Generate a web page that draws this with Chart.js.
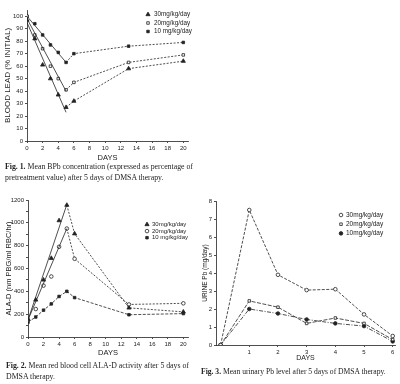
<!DOCTYPE html>
<html lang="en">
<head>
<meta charset="UTF-8">
<script src="https://cdn.jsdelivr.net/npm/chart.js"></script>
<style>
  body { margin: 0; background: #fff; }
  #page { position: relative; width: 400px; height: 384px; overflow: hidden; background: #fff; }
  canvas { position: absolute; }
  .cap { position: absolute; font-family: "Liberation Serif", serif; font-size: 7.8px; line-height: 11px; color: #222;
         white-space: nowrap; will-change: transform; }
</style>
</head>
<body>
<div id="page">
  <canvas id="fig1" width="200" height="162" style="left:0;top:0"></canvas>
  <canvas id="fig2" width="200" height="172" style="left:0;top:185px"></canvas>
  <canvas id="fig3" width="200" height="172" style="left:200px;top:190px"></canvas>

  <div class="cap" style="left:5px;top:161px"><b>Fig. 1.</b> Mean BPb concentration (expressed as percentage of<br>pretreatment value) after 5 days of DMSA therapy.</div>
  <div class="cap" style="left:6px;top:360px"><b>Fig. 2.</b> Mean red blood cell ALA-D activity after 5 days of<br>DMSA therapy.</div>
  <div class="cap" style="left:201px;top:366px;font-size:7.6px"><b>Fig. 3.</b> Mean urinary Pb level after 5 days of DMSA therapy.</div>
</div>

<script>
// Fig. 1 - blood lead, % of initial
const days1 = [0, 1, 2, 3, 4, 5, 6, 13, 20];
const bpb30 = [97, 82, 61, 50, 37, 27, 32, 58, 64];
const bpb20 = [100, 85, 74, 60, 50, 41, 47, 63, 69];
const bpb10 = [100, 94, 85, 77, 71, 63, 70, 76, 79];
// solid straight lines over the treatment days (day 0 and day 5 ends)
const fitDays = [0, 5];
const bpbFit30 = [95, 23];
const bpbFit20 = [98, 40];
const bpbFit10 = [100, 63];

// Fig. 2 - ALA-D activity
const days2 = [0, 1, 2, 3, 4, 5, 6, 13, 20];
const alad30 = [155, 325, 500, 690, 1020, 1155, 905, 255, 220];
const alad20 = [150, 245, 450, 530, 790, 950, 685, 285, 295];
const alad10 = [130, 175, 235, 290, 355, 400, 345, 195, 205];
const aladFit30 = [150, 1160];
const aladFit20 = [150, 950];

// Fig. 3 - urinary Pb
const days3 = [0, 1, 2, 3, 4, 5, 6];
const urine30 = [0, 7.5, 3.9, 3.05, 3.1, 1.7, 0.5];
const urine20 = [0, 2.45, 2.1, 1.2, 1.5, 1.2, 0.3];
const urine10 = [0, 2.0, 1.75, 1.42, 1.2, 1.05, 0.2];

// tick labels
const dayTicks = [0, 2, 4, 6, 8, 10, 12, 14, 16, 18, 20];
const bpbTicks = [0, 10, 20, 30, 40, 50, 60, 70, 80, 90, 100];
const aladTicks = [0, 100, 200, 300, 400, 500, 600, 700, 800, 900, 1000, 1100, 1200];
const urineTicks = [0, 1, 2, 3, 4, 5, 6, 7, 8];
const dayTicks3 = [1, 2, 3, 4, 5, 6];

const legend1 = ['30mg/kg/day', '20mg/kg/day', '10 mg/kg/day'];
const legend3 = ['30mg/kg/day', '20mg/kg/day', '10mg/kg/day'];

const INK = '#222';
const SANS = '"Liberation Sans", Arial, sans-serif';

function pts(xs, ys) {
  return xs.map((x, i) => ({x: x, y: ys[i]}));
}

// after day 5 the lines are dashed, before it only the straight line shows
const afterFive = {
  borderColor: c => c.p0.parsed.x < 5 ? 'rgba(0,0,0,0)' : INK,
  borderDash: c => c.p0.parsed.x < 5 ? [] : [2, 1.5]
};

function marks(data, style, filled, label, extra) {
  return Object.assign({
    data: data,
    showLine: true,
    borderColor: INK,
    borderWidth: 0.8,
    pointStyle: style,
    pointRadius: style === 'triangle' ? 2.4 : 1.8,
    pointBorderWidth: 0.8,
    pointBorderColor: INK,
    pointBackgroundColor: filled ? INK : '#fff',
    legendText: label
  }, extra || {});
}

function fit(data) {
  return {data: data, showLine: true, borderColor: INK, borderWidth: 0.8, pointRadius: 0};
}

function axis(o) {
  return {
    type: 'linear',
    min: o.min,
    max: o.max,
    afterBuildTicks: s => { s.ticks = o.ticks.map(v => ({value: v})); },
    afterFit: s => { if (s.isHorizontal()) s.height = o.size; else s.width = o.size; },
    border: {display: true, color: INK, width: 0.8},
    grid: {display: true, drawOnChartArea: false, tickLength: 2, color: INK, lineWidth: 0.8},
    ticks: {
      font: {family: SANS, size: o.fontSize || 6}, color: INK, padding: o.pad || 2,
      autoSkip: false, maxRotation: 0, callback: o.label || (v => v)
    },
    title: {
      display: true, text: o.title, color: INK,
      font: {family: SANS, size: o.titleSize || 7}, padding: o.titlePad || {top: 2, bottom: 0}
    }
  };
}

// small legend drawn inside the plot, top right
const cornerLegend = {
  id: 'cornerLegend',
  afterDraw(chart, args, opts) {
    const ctx = chart.ctx;
    let y = opts.y;
    ctx.save();
    ctx.font = opts.font;
    ctx.textBaseline = 'middle';
    ctx.lineWidth = 0.8;
    chart.data.datasets.forEach(ds => {
      if (!ds.legendText) return;
      ctx.fillStyle = ds.pointBackgroundColor;
      ctx.strokeStyle = INK;
      Chart.helpers.drawPoint(ctx, {pointStyle: ds.pointStyle, radius: ds.pointRadius, rotation: 0, borderWidth: 0.8}, opts.x, y);
      ctx.fillStyle = INK;
      ctx.fillText(ds.legendText, opts.textX, y);
      y += opts.gap;
    });
    ctx.restore();
  }
};

const common = {
  responsive: false,
  animation: false,
  devicePixelRatio: 1,
  plugins: {legend: {display: false}, tooltip: {enabled: false}}
};

new Chart(document.getElementById('fig1'), {
  type: 'scatter',
  data: {
    datasets: [
      fit(pts(fitDays, bpbFit30)),
      fit(pts(fitDays, bpbFit20)),
      fit(pts(fitDays, bpbFit10)),
      marks(pts(days1, bpb30), 'triangle', true, legend1[0], {segment: afterFive}),
      marks(pts(days1, bpb20), 'rect', false, legend1[1], {segment: afterFive}),
      marks(pts(days1, bpb10), 'rect', true, legend1[2], {segment: afterFive})
    ]
  },
  options: Object.assign({}, common, {
    layout: {padding: {top: 10, right: 12, left: 0, bottom: 0}},
    scales: {
      x: axis({min: 0, max: 20.6, ticks: dayTicks, size: 21, title: 'DAYS', titleSize: 7.5}),
      y: axis({min: 0, max: 105, ticks: bpbTicks, size: 27, title: 'BLOOD LEAD (% INITIAL)', titleSize: 8,
               titlePad: {top: 3, bottom: 0}})
    },
    plugins: Object.assign({}, common.plugins, {
      cornerLegend: {x: 148, textX: 154, y: 14.5, gap: 8.5, font: '6.3px ' + SANS}
    })
  }),
  plugins: [cornerLegend]
});

new Chart(document.getElementById('fig2'), {
  type: 'scatter',
  data: {
    datasets: [
      fit(pts(fitDays, aladFit30)),
      fit(pts(fitDays, aladFit20)),
      marks(pts(days2, alad30), 'triangle', true, legend1[0], {segment: afterFive}),
      marks(pts(days2, alad20), 'circle', false, legend1[1], {segment: afterFive}),
      marks(pts(days2, alad10), 'rect', true, legend1[2], {borderDash: [3, 1.5]})
    ]
  },
  options: Object.assign({}, common, {
    layout: {padding: {top: 15, right: 12, left: 0, bottom: 0}},
    scales: {
      x: axis({min: 0, max: 20.6, ticks: dayTicks, size: 20, title: 'DAYS', titleSize: 7.5}),
      y: axis({min: 0, max: 1200, ticks: aladTicks, size: 28, title: 'ALA-D (nm PBG/ml RBC/hr)', titleSize: 7.5,
               titlePad: {top: 4, bottom: 0}, label: v => v % 200 === 0 ? v : ''})
    },
    plugins: Object.assign({}, common.plugins, {
      cornerLegend: {x: 147, textX: 152, y: 39.5, gap: 6.6, font: '6px ' + SANS}
    })
  }),
  plugins: [cornerLegend]
});

new Chart(document.getElementById('fig3'), {
  type: 'scatter',
  data: {
    datasets: [
      marks(pts(days3, urine30), 'circle', false, legend3[0], {borderDash: [3, 1.5]}),
      marks(pts(days3, urine20), 'rect', false, legend3[1], {borderDash: [4, 1.5]}),
      marks(pts(days3, urine10), 'circle', true, legend3[2], {borderDash: [4, 1.5, 1, 1.5]})
    ]
  },
  options: Object.assign({}, common, {
    layout: {padding: {top: 11, right: 5, left: 0, bottom: 0}},
    scales: {
      x: axis({min: -0.16, max: 6.08, ticks: dayTicks3, size: 17, title: 'DAYS', titleSize: 7}),
      y: axis({min: 0, max: 8, ticks: urineTicks, size: 16, title: 'URINE Pb (mg/day)', titleSize: 6.5,
               titlePad: {top: 1, bottom: 0}})
    },
    plugins: Object.assign({}, common.plugins, {
      cornerLegend: {x: 141, textX: 146, y: 25, gap: 9.2, font: '6.5px ' + SANS}
    })
  }),
  plugins: [cornerLegend]
});
</script>
</body>
</html>
